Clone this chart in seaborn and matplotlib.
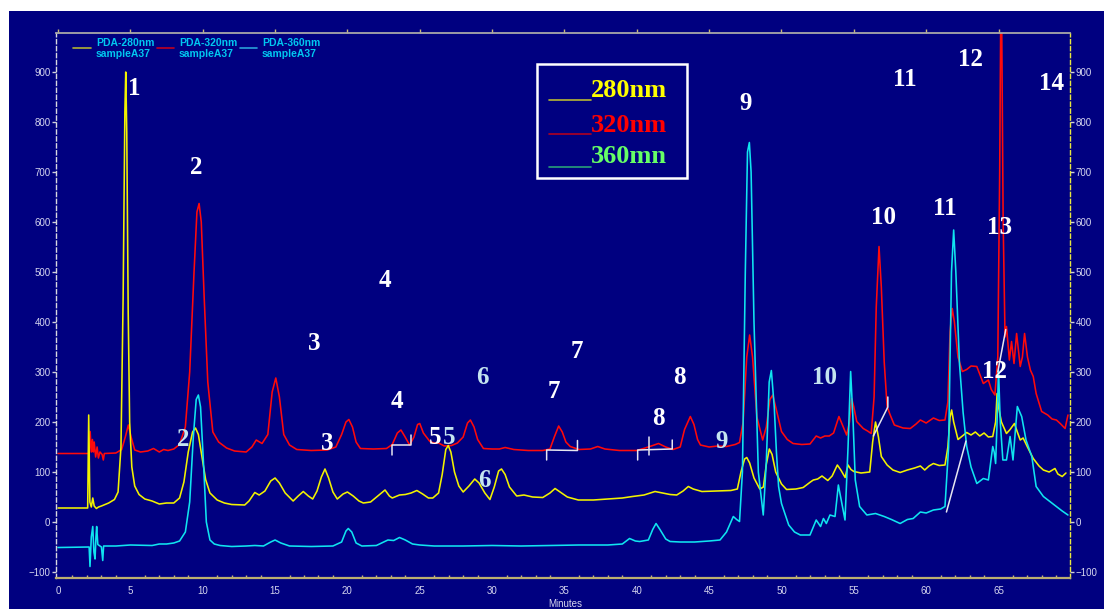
import matplotlib
matplotlib.use("Agg")
import matplotlib.pyplot as plt
from matplotlib.patches import Rectangle
from matplotlib.lines import Line2D
from matplotlib.ticker import MultipleLocator
import seaborn as sns
import pandas as pd

sns.set_style("dark")
plt.rcParams["font.family"] = ["Liberation Sans", "DejaVu Sans"]

# ---- chromatogram traces: retention time (min) and response (mAU) ----
t_280 = [0, 2.05, 2.12, 2.2, 2.3, 2.4, 2.5, 2.65, 2.8, 3.0, 3.5, 3.9, 4.15, 4.35, 4.5, 4.62, 4.68, 4.75,
         4.85, 4.95, 5.1, 5.3, 5.6, 6.0, 6.5, 7.0, 7.5, 8.0, 8.4, 8.7, 9.0, 9.3, 9.5, 9.7, 9.95, 10.2,
         10.5, 11.0, 11.5, 12.0, 12.9, 13.2, 13.6, 13.9, 14.3, 14.7, 15.0, 15.3, 15.7, 16.25, 16.6,
         16.95, 17.3, 17.6, 17.9, 18.2, 18.45, 18.7, 19.0, 19.3, 19.7, 20.0, 20.4, 20.8, 21.1, 21.6,
         22.1, 22.6, 22.9, 23.1, 23.6, 24.0, 24.4, 24.8, 25.2, 25.6, 25.9, 26.3, 26.55, 26.8, 26.97,
         27.15, 27.4, 27.7, 28.0, 28.4, 28.8, 29.1, 29.5, 29.85, 30.15, 30.45, 30.65, 30.9, 31.2, 31.7,
         32.2, 32.8, 33.5, 34.0, 34.35, 34.7, 35.2, 35.96, 37.0, 38.0, 39.0, 39.7, 40.5, 41.26, 41.8,
         42.3, 42.76, 43.2, 43.56, 43.9, 44.5, 45.5, 46.5, 46.95, 47.2, 47.45, 47.6, 47.8, 48.1, 48.5,
         48.75, 48.95, 49.16, 49.35, 49.6, 50.0, 50.35, 51.0, 51.5, 52.0, 52.2, 52.5, 52.8, 53.2, 53.5,
         53.86, 54.1, 54.4, 54.6, 54.8, 55.0, 55.5, 56.1, 56.3, 56.5, 56.7, 56.9, 57.3, 57.7, 58.2,
         58.7, 59.2, 59.6, 59.9, 60.2, 60.5, 60.9, 61.3, 61.5, 61.65, 61.76, 61.9, 62.2, 62.5, 62.8,
         63.1, 63.4, 63.7, 64.0, 64.3, 64.6, 64.8, 64.9, 65.0, 65.2, 65.35, 65.55, 65.8, 66.1, 66.3,
         66.5, 66.7, 67.0, 67.4, 67.8, 68.1, 68.5, 68.9, 69.1, 69.4, 69.66]
v_280 = [28, 28, 214, 40, 30, 48, 32, 27, 30, 32, 38, 45, 60, 150, 450, 820, 900, 780,
         420, 200, 110, 72, 55, 46, 42, 36, 38, 38, 48, 80, 140, 180, 188, 175, 130, 85,
         58, 44, 38, 35, 34, 42, 59, 54, 62, 82, 88, 78, 58, 42, 52,
         61, 52, 46, 62, 90, 106, 88, 60, 46, 56, 60, 52, 42, 38, 40,
         52, 64, 52, 48, 54, 55, 58, 63, 56, 48, 48, 58, 95, 145, 153,
         140, 100, 72, 60, 72, 86, 78, 58, 45, 70, 102, 106, 95, 70, 52,
         54, 50, 49, 58, 67, 60, 50, 44, 44, 46, 48, 51, 54, 61, 58,
         55, 54, 62, 71, 66, 61, 62, 63, 66, 100, 126, 129, 118, 88, 66,
         70, 115, 146, 135, 100, 76, 65, 66, 69, 80, 84, 86, 92, 83, 92,
         114, 104, 89, 114, 105, 101, 98, 100, 160, 200, 170, 131, 114, 104, 99,
         104, 108, 112, 104, 112, 117, 113, 114, 150, 210, 224, 200, 165, 172, 179,
         174, 180, 172, 178, 170, 171, 200, 257, 230, 200, 190, 177, 185, 197, 180,
         164, 168, 150, 127, 112, 104, 100, 107, 96, 91, 98]

t_320 = [0, 2.15, 2.22, 2.3, 2.38, 2.44, 2.5, 2.6, 2.7, 2.79, 2.9, 3.05, 3.13, 3.2, 4.0, 4.4, 4.65,
         4.86, 5.05, 5.3, 5.7, 6.2, 6.6, 7.0, 7.3, 7.6, 8.0, 8.4, 8.8, 9.1, 9.4, 9.6, 9.75, 9.9, 10.1,
         10.35, 10.7, 11.1, 11.65, 12.2, 13.0, 13.4, 13.7, 14.1, 14.5, 14.8, 15.05, 15.3, 15.6, 16.0,
         16.5, 17.5, 18.6, 19.2, 19.6, 19.9, 20.1, 20.35, 20.6, 20.9, 21.8, 22.7, 23.1, 23.45, 23.7,
         23.95, 24.3, 24.6, 24.85, 25.0, 25.25, 25.7, 26.0, 26.3, 26.7, 27.2, 27.6, 28.0, 28.3, 28.5,
         28.75, 29.0, 29.4, 30.0, 30.5, 30.9, 31.5, 32.5, 33.5, 34.0, 34.3, 34.6, 34.85, 35.1, 35.4,
         36.0, 36.8, 37.3, 37.8, 38.8, 40.0, 40.8, 41.5, 42.0, 42.5, 43.0, 43.3, 43.7, 43.95, 44.2,
         44.4, 45.0, 45.6, 46.2, 46.8, 47.1, 47.35, 47.6, 47.8, 48.0, 48.3, 48.7, 48.95, 49.2, 49.4,
         49.6, 50.0, 50.4, 50.8, 51.4, 51.97, 52.4, 52.7, 53.0, 53.3, 53.6, 53.97, 54.2, 54.5, 54.7,
         54.85, 55.0, 55.2, 55.65, 55.95, 56.2, 56.4, 56.55, 56.74, 56.9, 57.1, 57.3, 57.5, 57.8, 58.4,
         58.9, 59.3, 59.6, 60.0, 60.5, 60.9, 61.3, 61.5, 61.65, 61.8, 61.95, 62.2, 62.5, 62.8, 63.1,
         63.5, 63.95, 64.3, 64.5, 64.75, 64.95, 65.08, 65.15, 65.22, 65.32, 65.45, 65.55, 65.75, 65.9,
         66.07, 66.25, 66.5, 66.65, 66.8, 67.0, 67.2, 67.4, 67.6, 67.98, 68.4, 68.7, 69.0, 69.3, 69.6,
         69.8]
v_320 = [137, 137, 181, 140, 165, 140, 160, 130, 150, 128, 140, 135, 124, 137, 138, 145, 170,
         194, 170, 144, 140, 142, 147, 140, 145, 143, 146, 155, 190, 300, 500, 620, 637, 600, 450,
         280, 180, 160, 148, 142, 140, 150, 164, 157, 175, 260, 288, 250, 175, 154,
         145, 143, 144, 150, 175, 200, 205, 190, 160, 147, 146, 147, 155, 178, 184,
         172, 154, 170, 195, 197, 178, 161, 158, 158, 152, 153, 158, 170, 198, 204,
         190, 165, 147, 146, 146, 149, 145, 143, 143, 146, 170, 192, 180, 160, 151,
         145, 146, 151, 146, 143, 143, 150, 157, 150, 145, 150, 185, 211, 195, 165,
         154, 150, 152, 151, 155, 159, 200, 330, 374, 330, 210, 164, 190, 245, 254,
         230, 181, 165, 157, 155, 156, 172, 168, 172, 172, 178, 211, 195, 174, 200,
         247, 230, 201, 187, 182, 177, 250, 430, 551, 470, 320, 231, 215, 194, 188,
         187, 196, 204, 198, 208, 203, 204, 240, 380, 427, 400, 330, 301, 305, 312,
         311, 277, 284, 265, 254, 330, 700, 1000, 1000, 600, 370, 391, 324, 361,
         317, 377, 311, 330, 377, 330, 304, 291, 257, 221, 214, 206, 204, 196, 187,
         214]

t_360 = [0, 2.15, 2.21, 2.3, 2.4, 2.48, 2.56, 2.62, 2.67, 2.75, 2.9, 3.0, 3.09, 3.15, 4.0, 5.0, 6.5,
         7.0, 7.5, 8.0, 8.4, 8.8, 9.1, 9.35, 9.55, 9.7, 9.85, 10.05, 10.25, 10.5, 10.8, 11.2, 12.0,
         13.0, 13.6, 14.2, 14.7, 15.0, 15.4, 16.0, 17.5, 19.0, 19.6, 19.9, 20.06, 20.3, 20.6, 21.0,
         22.0, 22.5, 22.8, 23.2, 23.6, 24.0, 24.5, 25.0, 26.0, 28.0, 30.0, 32.0, 34.0, 36.0, 38.0,
         39.0, 39.5, 39.9, 40.2, 40.8, 41.1, 41.33, 41.6, 42.0, 42.3, 43.0, 44.0, 45.0, 45.75, 46.2,
         46.5, 46.67, 46.9, 47.1, 47.3, 47.5, 47.65, 47.78, 47.9, 48.1, 48.4, 48.74, 48.95, 49.15,
         49.3, 49.5, 49.65, 49.8, 50.0, 50.5, 50.9, 51.3, 51.97, 52.2, 52.4, 52.7, 52.9, 53.1, 53.35,
         53.7, 53.93, 54.15, 54.39, 54.6, 54.78, 54.95, 55.1, 55.4, 55.9, 56.5, 57.1, 57.6, 58.2,
         58.7, 59.1, 59.6, 60.0, 60.5, 61.0, 61.3, 61.55, 61.75, 61.9, 62.05, 62.3, 62.55, 62.8,
         63.1, 63.5, 63.95, 64.3, 64.6, 64.7, 64.8, 64.9, 65.0, 65.12, 65.3, 65.55, 65.8, 66.0, 66.3,
         66.6, 66.9, 67.3, 67.6, 68.1, 68.5, 69.0, 69.4, 69.8]
v_360 = [-51, -50, -89, -30, -9, -60, -74, -30, -9, -45, -48, -50, -77, -48, -48, -46, -47,
         -44, -44, -42, -38, -20, 40, 170, 245, 254, 230, 120, 0, -36, -44, -47, -49,
         -48, -47, -48, -40, -36, -42, -48, -49, -48, -40, -18, -13, -20, -42, -48,
         -47, -40, -36, -37, -31, -36, -44, -46, -48, -48, -47, -48, -47, -46, -46,
         -44, -33, -38, -39, -36, -15, -3, -15, -34, -39, -40, -40, -38, -36, -20,
         0, 11, 5, 1, 100, 500, 740, 759, 700, 400, 100, 14, 120, 280,
         303, 230, 140, 71, 37, -6, -20, -26, -26, -10, 4, -9, 7, -3, 14,
         11, 74, 40, 4, 150, 301, 200, 84, 31, 14, 17, 11, 5, -3,
         5, 7, 20, 18, 24, 26, 31, 150, 500, 584, 500, 317, 220, 151,
         110, 77, 87, 84, 151, 140, 117, 200, 304, 200, 124, 124, 171, 124, 231,
         211, 164, 131, 71, 51, 42, 31, 22, 14]

# integration marks (time, response) drawn as thin white polylines
marks = [
    ([23.1, 23.1, 24.4, 24.4], [134, 154, 154, 174]),
    ([33.77, 33.77, 35.9, 35.9], [124, 144, 143, 163]),
    ([40.06, 40.06, 42.45, 42.45], [124, 144, 146, 164]),
    ([40.87, 40.87], [134, 171]),
    ([56.35, 57.35, 57.35], [172, 230, 250]),
    ([61.4, 62.75], [20, 162]),
    ([64.95, 65.5], [300, 385]),
]

# peak numbers: (text, time, response at baseline, light tint?)
peak_labels = [
    ("1", 5.25, 854, False), ("2", 9.58, 697, False), ("3", 17.7, 345, False),
    ("4", 22.6, 470, False), ("3", 18.6, 143, False), ("4", 23.45, 227, False),
    ("5", 26.05, 156, False), ("5", 27.0, 156, True), ("6", 29.3, 277, True),
    ("6", 29.5, 70, True), ("7", 35.87, 327, False), ("7", 34.28, 247, False),
    ("8", 42.98, 277, False), ("8", 41.49, 194, False), ("9", 47.55, 823, False),
    ("9", 45.87, 147, True), ("10", 53.0, 277, True), ("10", 57.04, 597, False),
    ("11", 61.3, 614, False), ("11", 58.5, 873, False), ("12", 63.03, 912, False),
    ("13", 65.1, 577, False), ("12", 64.75, 289, False), ("14", 68.67, 864, False),
    ("2", 8.64, 153, True),
]

NAVY = "#000080"
TICK_TXT = "#d6d6ee"
W, H = 1104, 609

fig = plt.figure(figsize=(W / 100, H / 100), dpi=100, facecolor="white")
fig.patches.append(Rectangle((9 / W, 0), 1 - 9 / W, (H - 11) / H, transform=fig.transFigure,
                             facecolor=NAVY, edgecolor="none", zorder=-10))

ax = fig.add_axes([56 / W, (H - 578) / H, (1070 - 56) / W, (578 - 33) / H])
ax.set_facecolor(NAVY)

traces = [
    (t_320, v_320, "#ff0a0a"),
    (t_280, v_280, "#f2f200"),
    (t_360, v_360, "#10e4f0"),
]
for tt, vv, col in traces:
    df = pd.DataFrame({"Minutes": tt, "mAU": vv})
    sns.lineplot(data=df, x="Minutes", y="mAU", ax=ax, color=col, lw=1.15,
                 estimator=None, sort=False, legend=False)

for mx, my in marks:
    ax.plot(mx, my, color="#e6e6f0", lw=1.1, zorder=5)

for txt, tx, ty, light in peak_labels:
    ax.text(tx, ty, txt, color="#c4e4f0" if light else "white", fontsize=18,
            fontweight="bold", family="Liberation Serif", ha="center", va="baseline", zorder=6)

ax.set_xlim(-0.14, 69.94)
ax.set_ylim(-112, 978)
ax.xaxis.set_major_locator(MultipleLocator(5))
ax.xaxis.set_minor_locator(MultipleLocator(1))
ax.yaxis.set_major_locator(MultipleLocator(100))
ax.grid(False)

ax.tick_params(axis="x", which="major", direction="out", length=3, width=1, color="#c8b878",
               labelsize=7, labelcolor=TICK_TXT, pad=2.5, top=True)
ax.tick_params(axis="x", which="minor", direction="in", length=2.5, width=1, color="#c8b878",
               top=False, bottom=True)
ax.tick_params(axis="y", which="major", direction="out", length=3, width=1, color="#d0d0d8",
               labelsize=7, labelcolor=TICK_TXT, pad=1, left=True, right=True,
               labelleft=True, labelright=True)
ax.set_ylabel("")
ax.set_xlabel("Minutes", color=TICK_TXT, fontsize=7)
ax.xaxis.set_label_coords((565 - 56) / (1070 - 56), -(599 - 578) / (578 - 33))

for side, col, ls, lw in [("left", "#d8d8e0", (0, (3, 2)), 1.0),
                          ("right", "#e8e840", (0, (3, 2)), 1.0),
                          ("top", "#a8a8a8", "-", 1.3),
                          ("bottom", "#bcae70", "-", 1.6)]:
    ax.spines[side].set_visible(True)
    ax.spines[side].set_color(col)
    ax.spines[side].set_linestyle(ls)
    ax.spines[side].set_linewidth(lw)


def fx(px):
    return px / W


def fy(py):
    return 1 - py / H


# series key across the top of the plot
for x0, x1, col, name in [(73, 91, "#b0b032", "PDA-280nm"),
                          (157, 174, "#c00020", "PDA-320nm"),
                          (240, 257, "#2aa0d8", "PDA-360nm")]:
    fig.add_artist(Line2D([fx(x0), fx(x1)], [fy(47.7), fy(47.7)], color=col, lw=1.2))
    fig.text(fx(x1 + 5), fy(45.7), name, color="#00c8f0", fontsize=7.5, fontweight="bold",
             va="baseline", ha="left")
    fig.text(fx(x1 + 5), fy(57), "sampleA37", color="#00c8f0", fontsize=7.5, fontweight="bold",
             va="baseline", ha="left")

# wavelength box
fig.add_artist(Rectangle((fx(537), fy(178)), fx(687) - fx(537), fy(64) - fy(178),
                         transform=fig.transFigure, fill=False, edgecolor="white", lw=1.8))
for base, uline, txt, tcol, lcol in [(96.7, 100, "280nm", "#ffff00", "#b8b832"),
                                     (131.7, 134, "320nm", "#ff0000", "#b00020"),
                                     (163.3, 167, "360mn", "#66ff66", "#28a078")]:
    fig.add_artist(Line2D([fx(549), fx(591)], [fy(uline), fy(uline)], color=lcol, lw=1.2))
    fig.text(fx(591), fy(base), txt, color=tcol, fontsize=19, fontweight="bold",
             family="Liberation Serif", va="baseline", ha="left")

fig.savefig("out.png", dpi=100, facecolor=fig.get_facecolor())
